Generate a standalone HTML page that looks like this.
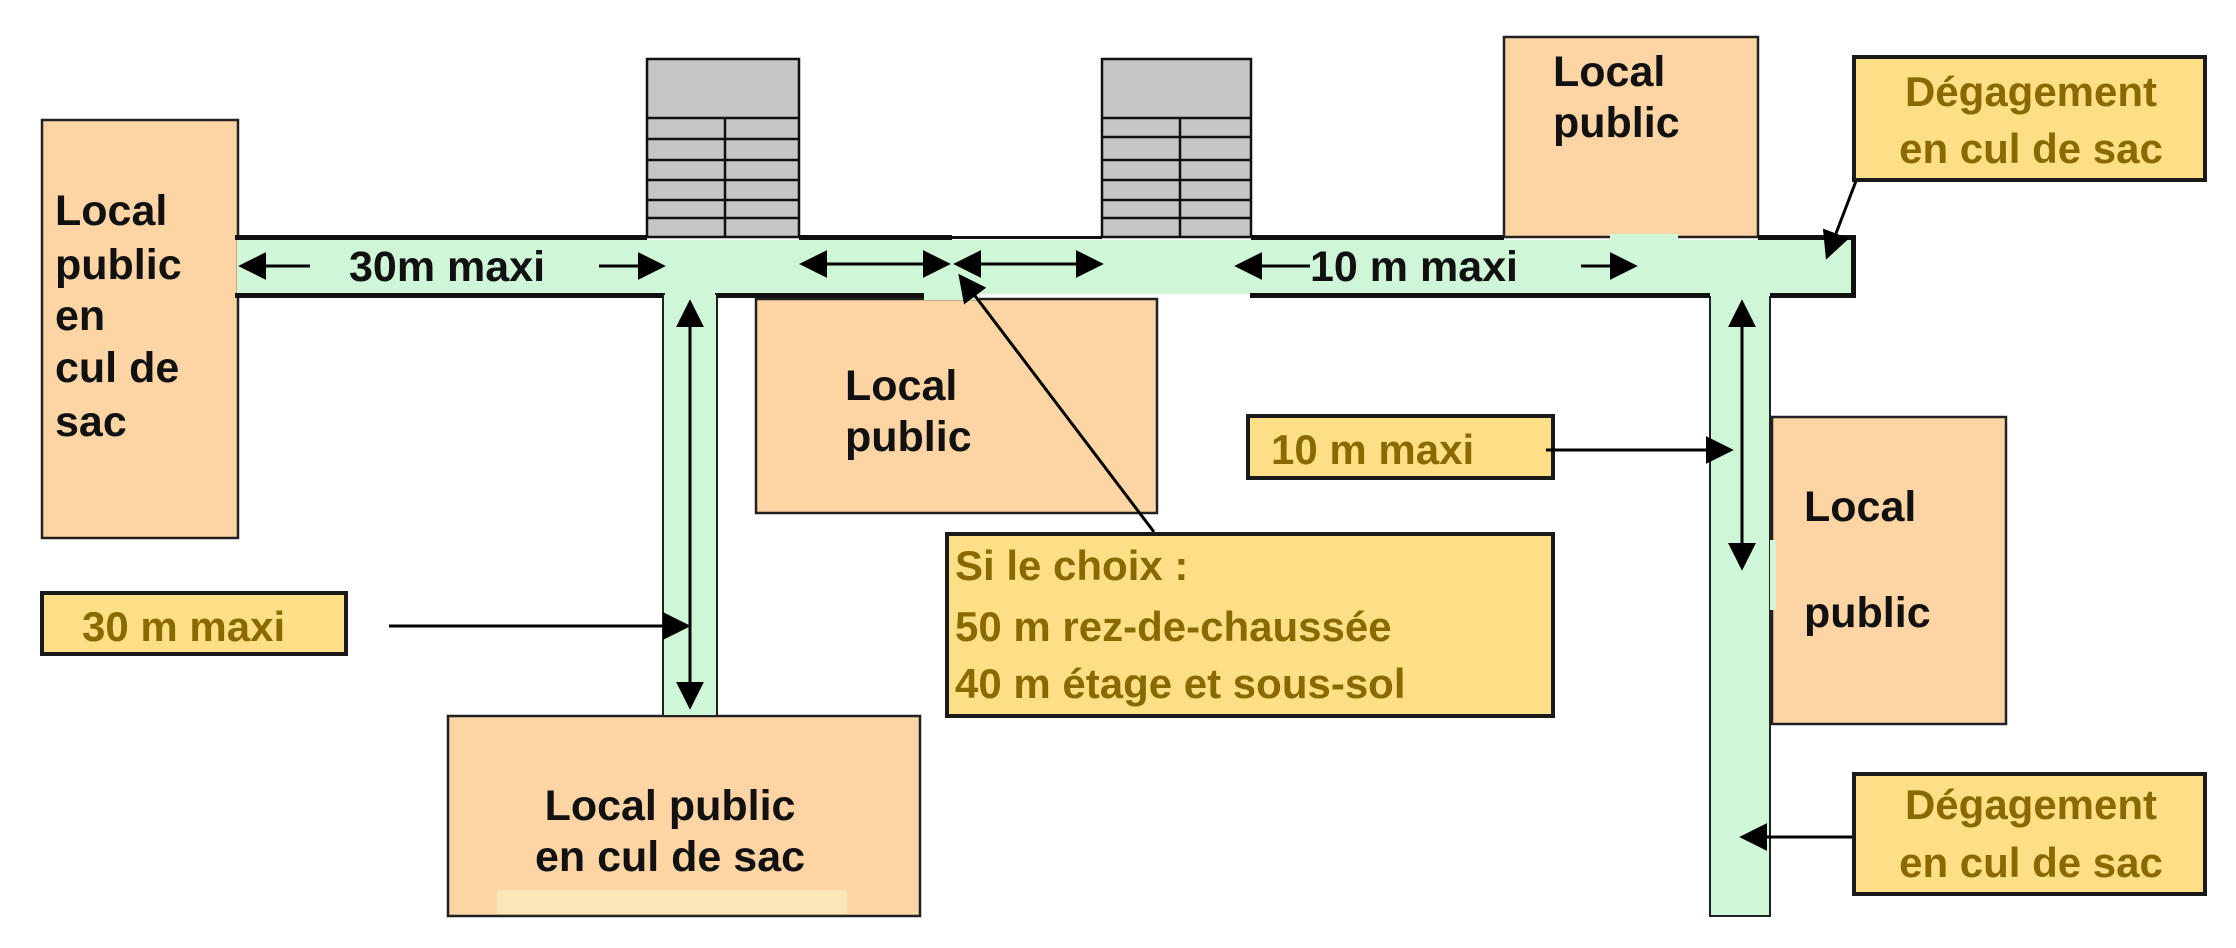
<!DOCTYPE html>
<html><head><meta charset="utf-8"><style>
html,body{margin:0;padding:0;background:#fff}
svg{display:block}
text{font-family:"Liberation Sans",Arial,sans-serif;font-weight:bold}
</style></head><body>
<svg width="2236" height="948" viewBox="0 0 2236 948" xmlns="http://www.w3.org/2000/svg">
<defs>
<marker id="a" viewBox="0 0 10 10" refX="9" refY="5" markerWidth="28" markerHeight="28" markerUnits="userSpaceOnUse" orient="auto-start-reverse"><path d="M0,0 L10,5 L0,10 z" fill="#000"/></marker>
</defs>
<!-- peach boxes -->
<g fill="#fdd5a4" stroke="#222" stroke-width="2.5">
<rect x="42" y="120" width="196" height="418"/>
<rect x="756" y="299" width="401" height="214"/>
<rect x="448" y="716" width="472" height="200"/>
<rect x="1504" y="37" width="254" height="200"/>
<rect x="1772" y="417" width="234" height="307"/>
</g>
<rect x="497" y="890" width="350" height="24" fill="#fde6b8"/>
<!-- stairs -->
<g stroke="#111" stroke-width="2.5">
<rect x="647" y="59" width="152" height="178" fill="#c6c6c6"/>
<rect x="1102" y="59" width="149" height="178" fill="#c6c6c6"/>
<path d="M647,118H799M647,139H799M647,160H799M647,180H799M647,200H799M647,218H799M725,118V237" fill="none"/>
<path d="M1102,118H1251M1102,137H1251M1102,160H1251M1102,180H1251M1102,200H1251M1102,218H1251M1180,118V237" fill="none"/>
</g>
<!-- corridors -->
<rect x="237" y="240" width="1617" height="54" fill="#cff6d6"/>
<rect x="924" y="290" width="55" height="10" fill="#cff6d6"/>
<rect x="663" y="294" width="54" height="422" fill="#cff6d6" stroke="#222" stroke-width="2"/>
<rect x="1710" y="294" width="60" height="622" fill="#cff6d6" stroke="#222" stroke-width="2"/>
<rect x="1700" y="240" width="80" height="56" fill="#cff6d6"/>
<rect x="665" y="240" width="50" height="60" fill="#cff6d6"/>
<g fill="#111">
<rect x="235" y="235" width="412" height="5"/>
<rect x="799" y="235" width="153" height="5"/>
<rect x="952" y="236" width="150" height="3"/>
<rect x="1251" y="235" width="253" height="5"/>
<rect x="1758" y="235" width="98" height="5"/>
<rect x="235" y="293" width="428" height="5"/>
<rect x="717" y="293" width="207" height="5"/>
<rect x="1250" y="293" width="460" height="5"/>
<rect x="1770" y="293" width="86" height="5"/>
<rect x="1851" y="235" width="5" height="63"/>
</g>
<rect x="1610" y="234" width="68" height="8" fill="#cff6d6"/>
<rect x="1770" y="540" width="6" height="70" fill="#cff6d6"/>
<!-- yellow boxes -->
<g fill="#fddf86" stroke="#1a1a1a" stroke-width="4">
<rect x="42" y="593" width="304" height="61"/>
<rect x="947" y="534" width="606" height="182"/>
<rect x="1248" y="416" width="305" height="62"/>
<rect x="1854" y="57" width="351" height="123"/>
<rect x="1854" y="774" width="351" height="120"/>
</g>
<!-- arrows -->
<g stroke="#000" stroke-width="3" fill="none">
<line x1="310" y1="266" x2="241" y2="266" marker-end="url(#a)"/>
<line x1="599" y1="266" x2="663" y2="266" marker-end="url(#a)"/>
<line x1="802" y1="264" x2="948" y2="264" marker-start="url(#a)" marker-end="url(#a)"/>
<line x1="956" y1="264" x2="1101" y2="264" marker-start="url(#a)" marker-end="url(#a)"/>
<line x1="1310" y1="266" x2="1237" y2="266" marker-end="url(#a)"/>
<line x1="1581" y1="266" x2="1635" y2="266" marker-end="url(#a)"/>
<line x1="690" y1="302" x2="690" y2="707" marker-start="url(#a)" marker-end="url(#a)"/>
<line x1="1742" y1="302" x2="1742" y2="568" marker-start="url(#a)" marker-end="url(#a)"/>
<line x1="389" y1="626" x2="688" y2="626" marker-end="url(#a)"/>
<line x1="1546" y1="450" x2="1731" y2="450" marker-end="url(#a)"/>
<line x1="1852" y1="837" x2="1742" y2="837" marker-end="url(#a)"/>
<line x1="1154" y1="532" x2="960" y2="276" marker-end="url(#a)"/>
<line x1="1856" y1="181" x2="1827" y2="257" marker-end="url(#a)"/>
</g>
<!-- black text -->
<g fill="#111" font-size="43">
<text x="55" y="225">Local</text>
<text x="55" y="279">public</text>
<text x="55" y="330">en</text>
<text x="55" y="382">cul de</text>
<text x="55" y="436">sac</text>
<text x="349" y="281" font-size="43">30m maxi</text>
<text x="1310" y="281" font-size="43">10 m maxi</text>
<text x="845" y="400">Local</text>
<text x="845" y="451">public</text>
<text x="670" y="820" text-anchor="middle">Local public</text>
<text x="670" y="871" text-anchor="middle">en cul de sac</text>
<text x="1553" y="86">Local</text>
<text x="1553" y="137">public</text>
<text x="1804" y="521">Local</text>
<text x="1804" y="627">public</text>
</g>
<!-- gold text -->
<g fill="#8a6a00" font-size="42">
<text x="82" y="641">30 m maxi</text>
<text x="1271" y="464">10 m maxi</text>
<text x="955" y="580">Si le choix :</text>
<text x="955" y="641">50 m rez-de-chaussée</text>
<text x="955" y="698">40 m étage et sous-sol</text>
<text x="2031" y="106" text-anchor="middle">Dégagement</text>
<text x="2031" y="163" text-anchor="middle">en cul de sac</text>
<text x="2031" y="819" text-anchor="middle">Dégagement</text>
<text x="2031" y="877" text-anchor="middle">en cul de sac</text>
</g>
</svg>
</body></html>
